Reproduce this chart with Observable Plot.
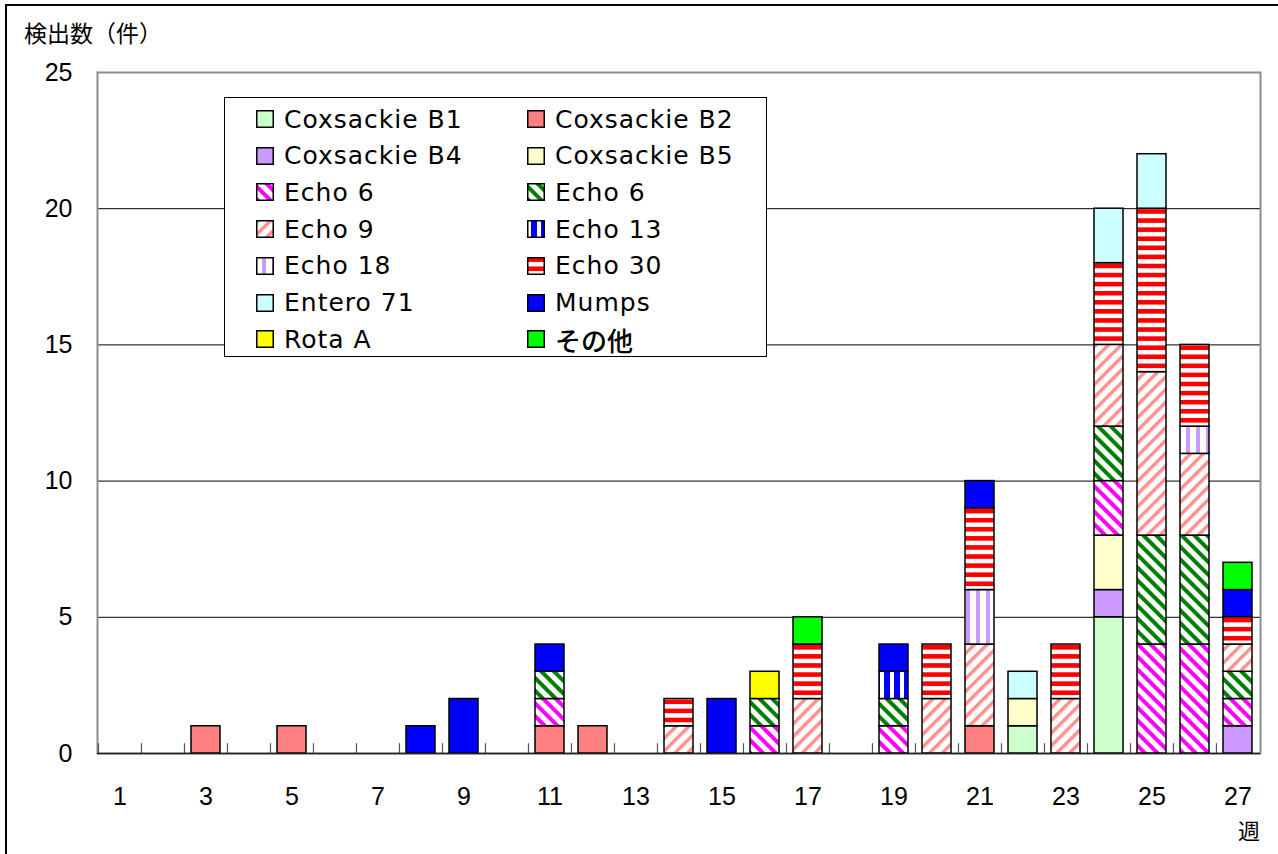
<!DOCTYPE html>
<html>
<head>
<meta charset="utf-8">
<script src="https://cdn.jsdelivr.net/npm/d3@7"></script>
<script src="https://cdn.jsdelivr.net/npm/@observablehq/plot@0.6"></script>
<style>
  html, body { margin: 0; padding: 0; background: #fff; }
  body { width: 1278px; height: 854px; overflow: hidden; position: relative; }
  #chart { position: absolute; left: 0; top: 0; }
  #frame { position: absolute; left: 5px; top: 4px; width: 1400px; height: 1000px; border-top: 2px solid #000; border-left: 2px solid #000; pointer-events: none; }
  #ytitle { position: absolute; left: 24px; top: 19px; font-family: "Noto Sans CJK JP", sans-serif; font-size: 23px; line-height: 26px; color: #000; }
  #xunit { position: absolute; left: 1238px; top: 816px; font-family: "Noto Sans CJK JP", sans-serif; font-size: 22px; line-height: 26px; color: #000; }
  #legend { position: absolute; left: 224px; top: 97px; width: 543px; height: 260px; box-sizing: border-box; border: 1px solid #000; background: #fff; }
  .item { position: absolute; height: 30px; display: flex; align-items: center; }
  .item svg { flex: none; }
  .item span { margin-left: 10px; font-family: "DejaVu Sans", sans-serif; font-size: 25px; letter-spacing: 1px; color: #000; white-space: nowrap; }
  .item span.jp { font-family: "Noto Sans CJK JP", sans-serif; font-weight: 500; font-size: 26px; letter-spacing: 0; }
</style>
</head>
<body>
<div id="chart"></div>
<div id="ytitle">検出数（件）</div>
<div id="xunit">週</div>
<div id="legend"></div>
<div id="frame"></div>
<script>
// ---- data (weeks 1..27) ----
const weeks = d3.range(1, 28);
const oddWeeks = weeks.filter(w => w % 2 === 1);
const yTicks = [0, 5, 10, 15, 20, 25];
const gridValues = [5, 10, 15, 20];

const seriesKeys = ["B1", "B2", "B4", "B5", "E6a", "E6b", "E9", "E13", "E18", "E30", "E71", "Mumps", "RotaA", "Other"];
const seriesLabels = ["Coxsackie B1", "Coxsackie B2", "Coxsackie B4", "Coxsackie B5", "Echo 6", "Echo 6", "Echo 9", "Echo 13", "Echo 18", "Echo 30", "Entero 71", "Mumps", "Rota A", "その他"];

const coxB1   = [0,0,0,0,0, 0,0,0,0,0, 0,0,0,0,0, 0,0,0,0,0, 0,1,0,5,0, 0,0];
const coxB2   = [0,0,1,0,1, 0,0,0,0,0, 1,1,0,0,0, 0,0,0,0,0, 1,0,0,0,0, 0,0];
const coxB4   = [0,0,0,0,0, 0,0,0,0,0, 0,0,0,0,0, 0,0,0,0,0, 0,0,0,1,0, 0,1];
const coxB5   = [0,0,0,0,0, 0,0,0,0,0, 0,0,0,0,0, 0,0,0,0,0, 0,1,0,2,0, 0,0];
const echo6a  = [0,0,0,0,0, 0,0,0,0,0, 1,0,0,0,0, 1,0,0,1,0, 0,0,0,2,4, 4,1];
const echo6b  = [0,0,0,0,0, 0,0,0,0,0, 1,0,0,0,0, 1,0,0,1,0, 0,0,0,2,4, 4,1];
const echo9   = [0,0,0,0,0, 0,0,0,0,0, 0,0,0,1,0, 0,2,0,0,2, 3,0,2,3,6, 3,1];
const echo13  = [0,0,0,0,0, 0,0,0,0,0, 0,0,0,0,0, 0,0,0,1,0, 0,0,0,0,0, 0,0];
const echo18  = [0,0,0,0,0, 0,0,0,0,0, 0,0,0,0,0, 0,0,0,0,0, 2,0,0,0,0, 1,0];
const echo30  = [0,0,0,0,0, 0,0,0,0,0, 0,0,0,1,0, 0,2,0,0,2, 3,0,2,3,6, 3,1];
const entero71= [0,0,0,0,0, 0,0,0,0,0, 0,0,0,0,0, 0,0,0,0,0, 0,1,0,2,2, 0,0];
const mumps   = [0,0,0,0,0, 0,0,1,2,0, 1,0,0,0,2, 0,0,0,1,0, 1,0,0,0,0, 0,1];
const rotaA   = [0,0,0,0,0, 0,0,0,0,0, 0,0,0,0,0, 1,0,0,0,0, 0,0,0,0,0, 0,0];
const other   = [0,0,0,0,0, 0,0,0,0,0, 0,0,0,0,0, 0,1,0,0,0, 0,0,0,0,0, 0,1];

const seriesValues = [coxB1, coxB2, coxB4, coxB5, echo6a, echo6b, echo9, echo13, echo18, echo30, entero71, mumps, rotaA, other];

// fills (solid colours or SVG patterns)
const seriesFills = [
  "#ccffcc", "#ff8080", "#cc99ff", "#ffffcc",
  "url(#pE6a)", "url(#pE6b)", "url(#pE9)", "url(#pE13)", "url(#pE18)", "url(#pE30)",
  "#ccffff", "#0000ff", "#ffff00", "#00ff00"
];

// long table in series order (so stacking follows legend order)
const data = [];
seriesKeys.forEach((key, s) => {
  seriesValues[s].forEach((v, i) => {
    if (v > 0) data.push({week: weeks[i], key, value: v});
  });
});

const W = 1278, H = 854;
const mL = 97, mR = 18, mT = 72, mB = 101;
const step = (W - mL - mR) / weeks.length;
const unitPx = (H - mT - mB) / 25;

const chart = Plot.plot({
  width: W, height: H,
  marginLeft: mL, marginRight: mR, marginTop: mT, marginBottom: mB,
  style: {fontFamily: "'Liberation Sans', Arial, sans-serif", fontSize: "25px", color: "#000", background: "transparent", overflow: "visible"},
  x: {type: "band", domain: weeks, paddingInner: 0.33, paddingOuter: 0.165},
  y: {domain: [0, 25]},
  color: {type: "ordinal", domain: seriesKeys, range: seriesFills},
  marks: [
    Plot.ruleY(gridValues, {stroke: "#000", strokeWidth: 1}),
    Plot.frame({stroke: "#8c8c8c", strokeWidth: 2}),
    Plot.ruleX(weeks, {x: d => d, dx: -step / 2, y1: 0, y2: 0.36, stroke: "#555", strokeWidth: 1.2}),
    Plot.barY(data, {x: "week", y: "value", fill: "key", stroke: "#000", strokeWidth: 1.5}),
    Plot.ruleY([0], {stroke: "#222", strokeWidth: 1.5}),
    Plot.axisY({ticks: yTicks, tickSize: 0, tickPadding: 25, fontSize: 25, label: null}),
    Plot.axisX({ticks: oddWeeks, tickSize: 0, tickPadding: 34, fontSize: 25, label: null})
  ]
});

// SVG pattern definitions
function addPatterns(svg) {
  const defs = d3.select(svg).insert("defs", ":first-child");
  function stripes(id, color, transform, period, thick) {
    const p = defs.append("pattern")
      .attr("id", id)
      .attr("patternUnits", "userSpaceOnUse")
      .attr("width", period).attr("height", period)
      .attr("patternTransform", transform);
    p.append("rect").attr("width", period).attr("height", period).attr("fill", "#fff");
    p.append("rect").attr("width", period).attr("height", thick).attr("fill", color);
  }
  const hp = unitPx / 3;
  const y0 = (H - mB) % hp;
  stripes("pE6a", "#ff00ff", "rotate(45)", 9, 4);
  stripes("pE6b", "#008000", "rotate(45)", 9, 4);
  stripes("pE9", "#ff9090", "rotate(-45)", 9, 3.5);
  stripes("pE13", "#0000ff", "rotate(90)", 10, 6);
  stripes("pE18", "#cc99ff", "rotate(90)", 10, 4);
  stripes("pE30", "#ff0000", `translate(0,${y0 + 1})`, hp, 4.6);
}
addPatterns(chart);
document.getElementById("chart").appendChild(chart);

// legend
const legend = d3.select("#legend");
seriesLabels.forEach((label, i) => {
  const col = i % 2, row = Math.floor(i / 2);
  const item = legend.append("div").attr("class", "item")
    .style("left", (col ? 302 : 31) + "px")
    .style("top", (21 + row * 36.7 - 15) + "px");
  const sw = item.append("svg").attr("width", 18).attr("height", 18);
  sw.append("rect").attr("x", 0.75).attr("y", 0.75).attr("width", 16.5).attr("height", 16.5)
    .attr("fill", seriesFills[i]).attr("stroke", "#000").attr("stroke-width", 1.5);
  item.append("span").attr("class", label === "その他" ? "jp" : null).text(label);
});
</script>
</body>
</html>
